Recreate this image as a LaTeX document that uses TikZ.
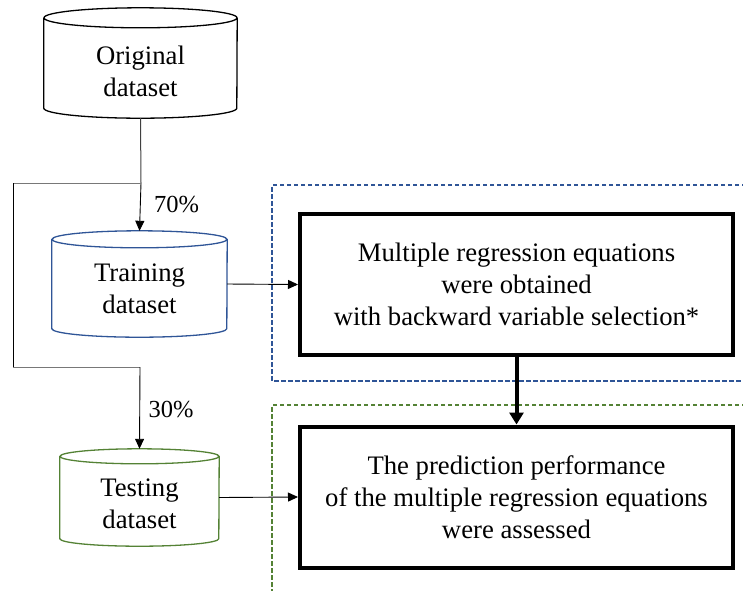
\documentclass[tikz,border=0pt]{standalone}
\usepackage{fontspec}
\setmainfont{Liberation Serif}
\usetikzlibrary{arrows.meta}

\definecolor{trainblue}{RGB}{47,85,151}
\definecolor{testgreen}{RGB}{84,130,53}
\definecolor{linegray}{RGB}{120,120,120}

% outline of a dataset cylinder around a node: name, colour, cap x radius, cap y radius
\newcommand{\dbcylinder}[4]{%
  \draw[#2, line width=1.3pt]
    ([yshift=-#4]#1.north west) -- ([yshift=#4]#1.south west)
    arc[start angle=180, end angle=360, x radius=#3, y radius=#4]
    -- ([yshift=-#4]#1.north east)
    ([yshift=-#4]#1.north) ellipse[x radius=#3, y radius=#4];
}

\begin{document}
\begin{tikzpicture}[x=1pt,y=-1pt,
  every node/.style={font=\fontsize{26.7}{32}\selectfont, align=center},
  dbase/.style={inner sep=0pt},
  stepbox/.style={draw, line width=4pt, minimum width=433pt, minimum height=141pt},
  groupbox/.style={line width=1.3pt, dash pattern=on 4.5pt off 2.5pt},
  link/.style={-{Triangle[length=10pt,width=9pt]}, line width=0.9pt},
  share/.style={right, font=\fontsize{24.5}{28}\selectfont}
]
\useasboundingbox (0,0) rectangle (743,590);

% Dashed groups
\draw[groupbox, trainblue] (746,185) -- (272,185) -- (272,381) -- (746,381);
\draw[groupbox, testgreen] (746,405) -- (272,405) -- (272,593);

% Datasets
\node[dbase, minimum width=193pt, minimum height=110pt,
      label={[yshift=-8pt]center:Original\\dataset}] (orig) at (140.5,63) {};
\node[dbase, minimum width=175pt, minimum height=106pt,
      label={[yshift=-5pt]center:Training\\dataset}] (train) at (139.5,284) {};
\node[dbase, minimum width=159pt, minimum height=97pt,
      label={[yshift=-6pt]center:Testing\\dataset}] (test) at (139.5,497.5) {};
\dbcylinder{orig}{black}{96.5pt}{10pt}
\dbcylinder{train}{trainblue}{87.5pt}{8.5pt}
\dbcylinder{test}{testgreen}{79.5pt}{7.5pt}

% Steps
\node[stepbox] (fit) at (516.5,284.5) {Multiple regression equations\\were obtained\\with backward variable selection*};
\node[stepbox] (assess) at (516.5,497) {The prediction performance\\of the multiple regression equations\\were assessed};

% Split
\coordinate (split) at (141,183);
\coordinate (back1) at (13,183);
\coordinate (back2) at (13,367);
\coordinate (back3) at (140,367);

% Connection
\draw[black!75, line width=1pt] (orig.south) -- (split);
\draw[link] (split) -- (train.north) node[pos=0.45, share, xshift=10pt]{70\%};
\draw[linegray, line width=1pt] (split) -- (back1);
\draw[line width=0.9pt] (back1) -- (back2);
\draw[linegray, line width=1pt] (back2) -- (back3);
\draw[link] (back3) -- (test.north) node[pos=0.52, share, xshift=5pt]{30\%};

\draw[link] (train.east) -- (fit.west);
\draw[link] (test.east) -- (assess.west);
\draw[line width=4pt, -{Triangle[length=12pt,width=14pt]}] (fit.south) -- (assess.north);
\end{tikzpicture}
\end{document}
